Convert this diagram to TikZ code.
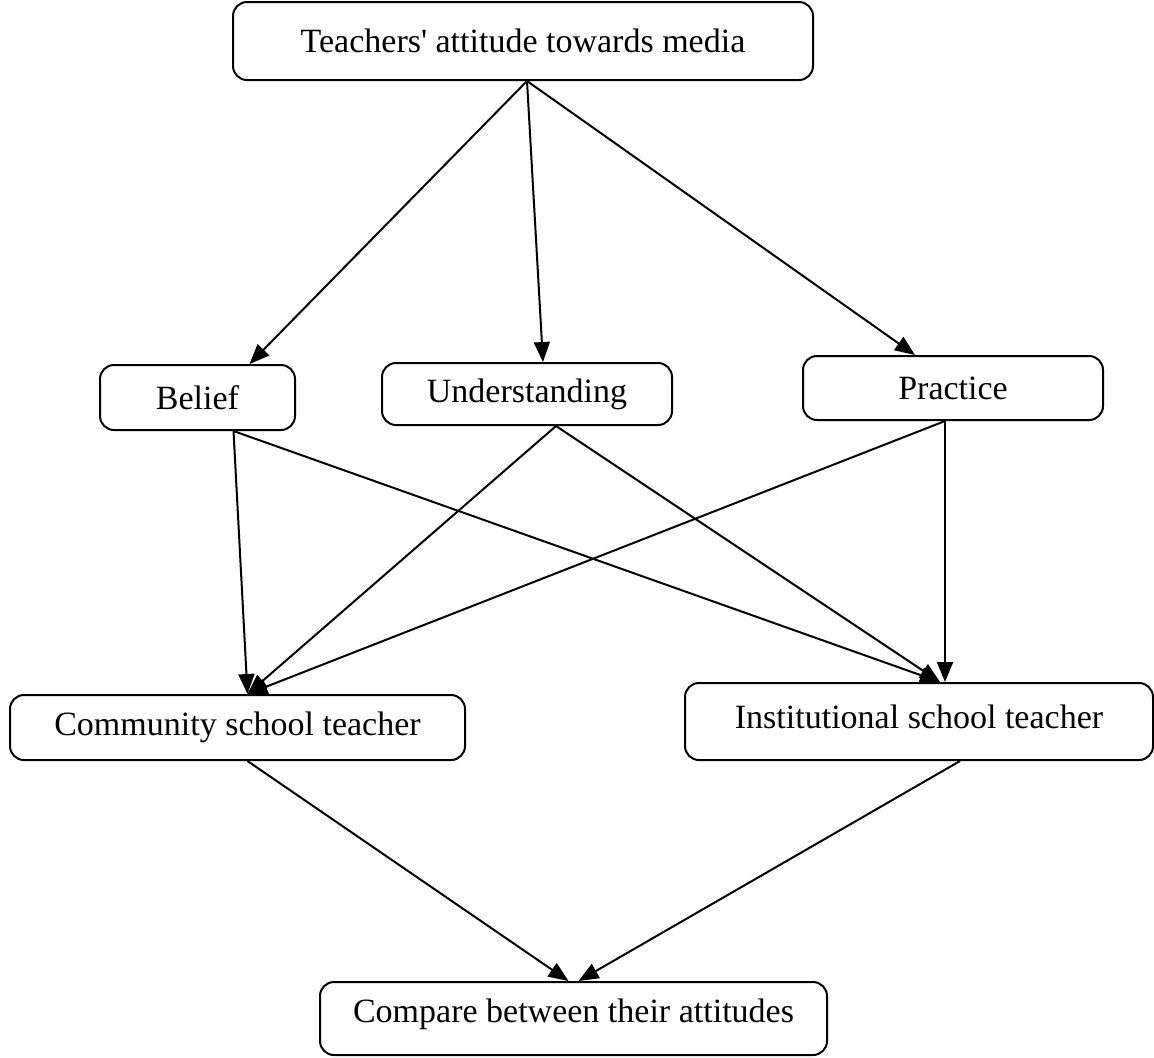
\documentclass[tikz,border=0pt]{standalone}
\usepackage{fontspec}
\setmainfont{Liberation Serif}
\usetikzlibrary{arrows.meta}

\begin{document}
\begin{tikzpicture}[x=0.5pt,y=-0.5pt,>={Triangle[length=10pt,width=8pt]},
    boite/.style={draw,rounded corners=7pt,line width=1pt,inner sep=0pt,
        font=\fontsize{17}{20}\selectfont},
    fleche/.style={->,line width=1pt}]

    \useasboundingbox (0,0) rectangle (1154,1057);

    % Les boites
    \node[boite,minimum width=290pt,minimum height=39pt] (top) at (523,41) {Teachers\textquotesingle{} attitude towards media};
    \node[boite,minimum width=97.5pt,minimum height=32.5pt] (belief) at (197.5,397.5) {Belief};
    \node[boite,minimum width=145pt,minimum height=31pt] (under) at (527,394) {Understanding};
    \node[boite,minimum width=150pt,minimum height=32pt] (practice) at (953,388) {Practice};
    \node[boite,minimum width=227.5pt,minimum height=32.5pt] (community) at (237.5,727.5) {Community school teacher};
    \node[boite,minimum width=234pt,minimum height=38.5pt,text depth=5pt] (inst) at (919,721.5) {Institutional school teacher};
    \node[boite,minimum width=253.5pt,minimum height=36.5pt,text depth=8pt] (compare) at (573.5,1018.5) {Compare between their attitudes};

    % Du haut vers les trois aspects
    \draw[fleche] ([xshift=2pt]top.south) -- ([xshift=26pt]belief.north);
    \draw[fleche] ([xshift=2pt]top.south) -- ([xshift=8pt]under.north);
    \draw[fleche] ([xshift=2pt]top.south) -- ([xshift=-19pt]practice.north);

    % Des aspects vers les enseignants
    \draw[fleche] ([xshift=18pt]belief.south) -- ([xshift=5pt]community.north);
    \draw[fleche] ([xshift=18pt]belief.south) -- ([xshift=10.5pt]inst.north);
    \draw[fleche] ([xshift=14.5pt]under.south) -- ([xshift=5pt]community.north);
    \draw[fleche] ([xshift=14.5pt]under.south) -- ([xshift=10.5pt]inst.north);
    \draw[fleche] ([xshift=-4pt]practice.south) -- ([xshift=5pt]community.north);
    \draw[fleche] ([xshift=-4pt]practice.south) -- ([xshift=-4pt]practice.south |- inst.north);

    % Vers la comparaison
    \draw[fleche] ([xshift=5pt]community.south) -- ([xshift=-2.5pt]compare.north);
    \draw[fleche] ([xshift=20.5pt]inst.south) -- ([xshift=2.5pt]compare.north);
\end{tikzpicture}
\end{document}
